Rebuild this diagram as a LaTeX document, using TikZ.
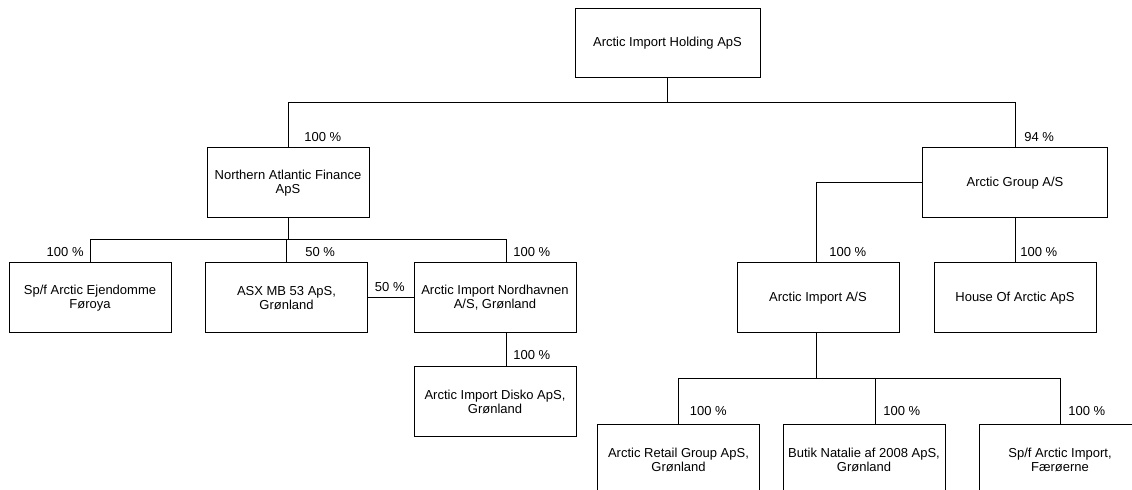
\documentclass[tikz,border=0pt]{standalone}
\usepackage{fontspec}
\setmainfont{Liberation Sans}
\usepackage{tikz}
\usetikzlibrary{positioning}
\tikzset{%
	company/.style = {draw, rectangle, line width=0.5pt, minimum width=81pt, minimum height=35pt, inner sep=2pt, text centered, align=center, font=\fontsize{6.5}{7.1}\selectfont},
	wide/.style    = {company, minimum width=92.5pt},
	pct/.style     = {anchor=west, inner sep=0pt, font=\fontsize{6.5}{7.1}\selectfont},
	link/.style    = {line width=0.5pt},
}
\begin{document}
\begin{tikzpicture}[x=0.5pt,y=-0.5pt]
	\useasboundingbox (0,0) rectangle (1132,490);
	
	% owners
	\node[wide, minimum height=34.5pt] (hold) at (667.5,43.5) {Arctic Import Holding ApS};
	\node[company] (naf) at (288,183) {Northern Atlantic Finance\\ApS};
	\node[wide] (grp) at (1015,183) {Arctic Group A/S};
	
	% second row
	\node[company] (ejd) at (90,298) {Sp/f Arctic Ejendomme\\Føroya};
	\node[company] (asx) at (286.5,298) {ASX MB 53 ApS,\\Grønland};
	\node[company] (ain) at (495,298) {Arctic Import Nordhavnen\\A/S, Grønland};
	\node[company] (disko) at (495,402) {Arctic Import Disko ApS,\\Grønland};
	\node[company] (aias) at (818,298) {Arctic Import A/S};
	\node[company] (hoa) at (1015,298) {House Of Arctic ApS};
	
	% bottom row
	\node[company] (retail) at (678.5,460) {Arctic Retail Group ApS,\\Grønland};
	\node[company] (butik) at (864,460) {Butik Natalie af 2008 ApS,\\Grønland};
	\node[company] (spf) at (1060,460) {Sp/f Arctic Import,\\Færøerne};
	
	% buses
	\coordinate (b1) at (667.5,103);
	\coordinate (b2) at (288,240);
	\coordinate (b3) at (816,379);
	
	\draw[link] (hold.south) -- (b1);
	\draw[link] (b1) -| (naf.north);
	\draw[link] (b1) -| (grp.north);
	
	\draw[link] (naf.south) -- (b2);
	\draw[link] (b2) -| (ejd.north);
	\draw[link] (b2) -| (asx.north);
	\draw[link] (b2) -| ([xshift=5.5pt]ain.north);
	\draw[link] (asx.east) -- (ain.west);
	\draw[link] ([xshift=5.5pt]ain.south) -- ([xshift=5.5pt]disko.north);
	
	\draw[link] (grp.west) -| ([xshift=-1pt]aias.north);
	\draw[link] (grp.south) -- (hoa.north);
	
	\draw[link] ([xshift=-1pt]aias.south) -- (b3);
	\draw[link] (b3) -| (retail.north);
	\draw[link] (b3) -| ([xshift=5.5pt]butik.north);
	\draw[link] (b3) -| (spf.north);
	
	% shares
	\node[pct] (p-naf) at (304,137) {100 \%};
	\node[pct] (p-grp) at (1024,137) {94 \%};
	\node[pct, anchor=east] (p-ejd) at (84,252) {100 \%};
	\node[pct] (p-asx) at (305,252) {50 \%};
	\node[pct] (p-ain) at (513,252) {100 \%};
	\node[pct, anchor=east] (p-cross) at (405,287) {50 \%};
	\node[pct] (p-disko) at (513,355) {100 \%};
	\node[pct] (p-aias) at (829,252) {100 \%};
	\node[pct] (p-hoa) at (1020,252) {100 \%};
	\node[pct] (p-retail) at (689.5,411) {100 \%};
	\node[pct] (p-butik) at (883,411) {100 \%};
	\node[pct] (p-spf) at (1068,411) {100 \%};
	
\end{tikzpicture}
\end{document}
